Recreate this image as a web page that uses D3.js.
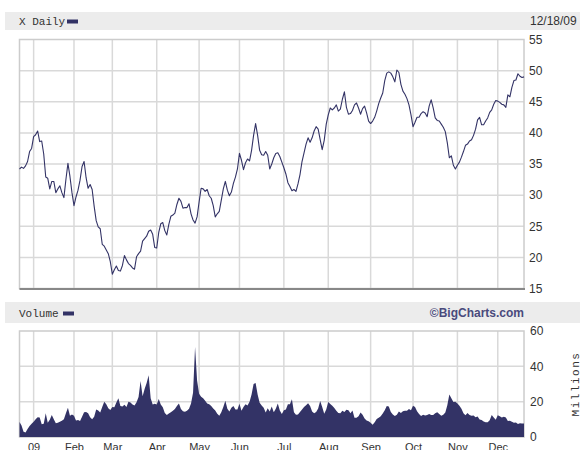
<!DOCTYPE html>
<html>
<head>
<meta charset="utf-8">
<script src="https://cdn.jsdelivr.net/npm/d3@7"></script>
<style>
  html, body { margin: 0; padding: 0; background: #ffffff; }
  svg { display: block; }
</style>
</head>
<body>
<div id="chart"></div>
<script>
// ---------------- DATA ----------------
const symbol = "X";
const titleLabel = "X Daily";
const dateLabel = "12/18/09";
const volumeLabel = "Volume";
const creditLabel = "\u00A9BigCharts.com";
const unitLabel = "Millions";

// Trading calendar: first and last session, market holidays
const firstSession = "2008-12-22";
const lastSession = "2009-12-18";
const holidays = ["2008-12-25", "2009-01-01", "2009-01-19", "2009-02-16", "2009-04-10",
                  "2009-05-25", "2009-07-03", "2009-09-07", "2009-11-26"];

const monthLabels = ["09", "Feb", "Mar", "Apr", "May", "Jun", "Jul", "Aug", "Sep", "Oct", "Nov", "Dec"];
const priceTicks = [15, 20, 25, 30, 35, 40, 45, 50, 55];
const volumeTicks = [0, 20, 40, 60];

// Daily closing price, one value per trading session (USD)
const closePrices = [
  34.2, 34.5, 34.3, 34.7, 35.4, 37.0, 37.5, 39.4, 39.7, 40.3,
  38.6, 38.7, 36.6, 32.9, 32.7, 31.0, 32.2, 32.2, 30.4, 31.0,
  31.5, 30.4, 29.6, 32.5, 35.1, 33.0, 30.4, 28.3, 29.7, 30.8,
  32.4, 34.6, 35.4, 32.8, 31.1, 31.7, 30.9, 28.2, 25.9, 24.9,
  24.6, 22.1, 21.8, 21.2, 20.6, 19.3, 17.3, 18.0, 18.6, 17.9,
  17.8, 18.7, 20.3, 19.6, 19.0, 18.7, 18.3, 18.1, 20.1, 20.6,
  21.0, 22.6, 23.0, 23.4, 24.2, 24.4, 23.7, 21.6, 21.5, 24.0,
  25.4, 25.6, 24.3, 23.6, 25.3, 26.6, 26.8, 27.1, 28.5, 29.5,
  29.0, 27.9, 28.0, 28.0, 28.6, 27.0, 26.0, 25.5, 26.5, 28.9,
  31.1, 31.0, 30.6, 30.9, 29.9, 29.5, 28.3, 26.5, 27.0, 27.4,
  29.2, 31.0, 32.2, 30.8, 29.9, 30.5, 31.9, 32.9, 34.2, 36.7,
  35.6, 34.1, 35.2, 35.8, 35.5, 37.2, 39.6, 41.5, 39.6, 37.2,
  36.5, 36.4, 37.0, 36.4, 34.2, 35.0, 36.0, 36.7, 36.8, 36.2,
  35.3, 34.4, 33.4, 32.0, 31.4, 30.7, 30.9, 30.6, 31.8, 33.3,
  35.4, 36.8, 38.2, 39.2, 38.5, 39.2, 40.3, 41.0, 40.6, 38.9,
  37.3, 38.8, 41.4, 42.9, 44.0, 43.7, 44.0, 44.5, 43.5, 43.8,
  45.4, 46.6, 44.1, 43.0, 43.1, 43.6, 44.5, 44.8, 44.0, 43.0,
  43.9, 44.3, 43.2, 41.9, 41.5, 41.9, 42.5, 43.5, 44.7, 45.6,
  46.4, 48.4, 49.6, 49.8, 49.6, 49.0, 48.2, 50.1, 49.7, 47.8,
  46.7, 46.2, 45.5, 44.5, 42.9, 41.0, 41.7, 42.5, 42.5, 43.1,
  43.4, 43.2, 42.6, 44.3, 45.3, 44.0, 42.4, 42.0, 41.9, 41.4,
  40.9, 40.2, 38.4, 36.0, 36.3, 34.8, 34.2, 34.8, 35.3, 36.1,
  37.0, 38.0, 38.2, 38.7, 38.9, 39.6, 40.6, 42.1, 42.5, 41.3,
  41.3, 41.9, 42.4, 43.3, 43.7, 44.6, 45.2, 45.1, 44.9, 44.6,
  44.5, 44.1, 46.1, 45.8, 47.3, 48.4, 48.5, 49.5, 49.1, 48.9,
  49.0
];

// Daily volume, millions of shares, one value per trading session
const volumes = [
   8.5,  6.5,  3.0,  2.5,  4.5,  6.2,  7.5,  8.7, 10.0, 11.2,
  11.0,  7.2,  7.5, 13.5,  8.0,  9.8, 12.5, 10.0,  7.8,  8.0,
   8.6,  9.2, 10.0, 13.5, 16.5, 12.0, 12.8, 12.0,  9.3,  9.6,
   9.0, 11.5, 14.0, 14.2, 13.5, 11.2, 10.0, 11.5, 15.5, 15.0,
  13.8, 17.0, 20.0, 18.6, 16.3, 15.3, 17.0, 16.8, 19.5, 22.0,
  17.5, 17.3, 18.2, 17.0, 20.0, 19.5, 18.4, 17.8, 19.6, 22.7,
  31.7, 23.0, 27.2, 30.5, 35.0, 22.0, 18.4, 18.8, 18.4, 21.5,
  18.4, 16.9, 13.6, 12.5, 13.3, 14.0, 14.8, 15.8, 17.5, 19.0,
  15.8, 14.6, 14.3, 14.8, 16.0, 19.0, 25.0, 51.0, 32.0, 24.5,
  22.8, 22.0, 20.5, 19.0, 18.6, 17.5, 16.2, 15.0, 13.2, 12.0,
  14.0, 17.0, 20.5, 16.0, 14.5, 16.5, 17.5, 15.5, 15.5, 18.8,
  14.8, 17.0, 18.5, 17.8, 20.0, 24.0, 30.0, 30.5, 24.0, 19.4,
  17.8, 16.5, 13.8, 16.3, 14.5, 17.3, 14.0, 16.0, 19.0, 15.0,
  13.0, 15.2, 15.5, 18.5, 18.5, 21.4, 14.0, 12.6, 12.8, 14.1,
  15.6, 17.0, 18.0, 19.1, 17.6, 14.4, 13.4, 14.2, 16.2, 20.4,
  17.0, 13.1, 15.6, 19.8, 18.7, 17.7, 16.4, 14.8, 13.6, 13.4,
  14.9, 14.2, 15.4, 15.2, 13.4, 15.0, 10.9, 10.9, 11.7, 13.9,
  12.6, 10.5,  9.3,  8.9,  8.0,  6.9,  8.3, 10.2, 10.9, 11.7,
  13.3, 15.2, 17.6, 17.2, 14.2, 12.7, 11.9, 12.6, 14.4, 13.6,
  14.6, 14.9, 14.8, 15.9, 15.2, 17.7, 17.0, 14.6, 13.0, 11.9,
  12.6, 12.2, 12.4, 13.0, 12.4, 12.4, 13.4, 14.0, 13.0, 12.0,
  12.6, 13.8, 18.0, 24.0, 22.0, 19.8, 20.0, 18.9, 17.7, 16.0,
  13.4, 12.3, 13.6, 12.4, 12.0, 12.2, 11.2, 11.6,  9.9,  9.6,
   8.8,  8.3,  8.3,  9.5, 12.5, 11.0,  9.7, 12.3, 11.8, 11.0,
  11.5, 11.0,  9.0,  9.2,  8.6,  8.0,  8.2,  7.4,  7.8,  7.6,
   7.6
];

// ---------------- CALENDAR ----------------
const parse = d3.utcParse("%Y-%m-%d");
const fmt = d3.utcFormat("%Y-%m-%d");
const holidaySet = new Set(holidays);
const sessions = d3.utcDays(parse(firstSession), d3.utcDay.offset(parse(lastSession), 1))
  .filter(d => d.getUTCDay() !== 0 && d.getUTCDay() !== 6 && !holidaySet.has(fmt(d)))
  .map(fmt);

const priceData = sessions.map((s, i) => ({ session: s, value: closePrices[i] }));
const volumeData = sessions.map((s, i) => ({ session: s, value: volumes[i] }));

// first session of each month of 2009
const monthStarts = [];
sessions.forEach((s, i) => {
  if (i > 0 && s.slice(0, 7) !== sessions[i - 1].slice(0, 7)) monthStarts.push(s);
});
const monthTicks = monthStarts.map((s, i) => ({ session: s, label: monthLabels[i] }));

// ---------------- LAYOUT ----------------
const W = 580, H = 450;
const plotLeft = 19.5, plotRight = 524;
const price = { top: 39.5, bottom: 288.5 };
const vol = { top: 331, bottom: 437 };
const navy = "#333366";
const gridColor = "#d9d9d9";
const textColor = "#333333";

const svg = d3.select("#chart").append("svg")
  .attr("width", W).attr("height", H)
  .style("font-family", "'Liberation Sans', Arial, sans-serif");

const x = d3.scalePoint().domain(sessions).range([plotLeft, plotRight]);
const yPrice = d3.scaleLinear().domain([15, 55]).range([price.bottom, price.top]);
const yVol = d3.scaleLinear().domain([0, 60]).range([vol.bottom, vol.top]);

// ---------------- HEADER BANDS ----------------
function band(y0, y1) {
  svg.append("rect").attr("x", 5).attr("y", y0).attr("width", W - 5).attr("height", y1 - y0)
    .attr("fill", "#ececec");
}
band(12, 30);
band(302, 323);

svg.append("text").attr("x", 19).attr("y", 25)
  .style("font-family", "'Liberation Mono', 'DejaVu Sans Mono', monospace")
  .style("font-size", "11px").attr("fill", textColor).text(titleLabel);
svg.append("rect").attr("x", 67).attr("y", 19.5).attr("width", 11).attr("height", 4).attr("fill", navy);

svg.append("text").attr("x", 530).attr("y", 25)
  .style("font-size", "12px").attr("fill", textColor).text(dateLabel);

svg.append("text").attr("x", 19).attr("y", 317)
  .style("font-family", "'Liberation Mono', 'DejaVu Sans Mono', monospace")
  .style("font-size", "11px").attr("fill", textColor).text(volumeLabel);
svg.append("rect").attr("x", 63).attr("y", 311.5).attr("width", 11).attr("height", 4).attr("fill", navy);

svg.append("text").attr("x", 524).attr("y", 317).attr("text-anchor", "end")
  .style("font-size", "12px").style("font-weight", "bold").attr("fill", "#4a4a7c").text(creditLabel);

// ---------------- PRICE PANEL ----------------
const gP = svg.append("g");
gP.append("rect").attr("x", plotLeft).attr("y", price.top)
  .attr("width", plotRight - plotLeft).attr("height", price.bottom - price.top).attr("fill", "#fff");

gP.selectAll("line.hg").data(priceTicks.slice(1, -1)).join("line")
  .attr("x1", plotLeft).attr("x2", plotRight)
  .attr("y1", d => yPrice(d)).attr("y2", d => yPrice(d))
  .attr("stroke", gridColor).attr("stroke-width", 1.5);
gP.selectAll("line.vg").data(monthTicks).join("line")
  .attr("x1", d => x(d.session)).attr("x2", d => x(d.session))
  .attr("y1", price.top).attr("y2", price.bottom)
  .attr("stroke", gridColor).attr("stroke-width", 1.5);

gP.append("rect").attr("x", plotLeft).attr("y", price.top)
  .attr("width", plotRight - plotLeft).attr("height", price.bottom - price.top)
  .attr("fill", "none").attr("stroke", "#cccccc").attr("stroke-width", 1.5);
gP.append("line").attr("x1", plotLeft).attr("x2", plotRight + 1)
  .attr("y1", price.bottom + 0.5).attr("y2", price.bottom + 0.5)
  .attr("stroke", "#888888").attr("stroke-width", 2);

const line = d3.line().x(d => x(d.session)).y(d => yPrice(d.value));
gP.append("path").datum(priceData).attr("d", line)
  .attr("fill", "none").attr("stroke", navy).attr("stroke-width", 1.1)
  .attr("stroke-linejoin", "round");

const priceAxis = d3.axisRight(yPrice).tickValues(priceTicks).tickSize(0).tickPadding(5);
svg.append("g").attr("transform", `translate(${plotRight},0)`).call(priceAxis)
  .call(g => g.select(".domain").remove())
  .call(g => g.selectAll("text").style("font-size", "12px")
    .style("font-family", "'Liberation Sans', Arial, sans-serif").attr("fill", textColor));

// ---------------- VOLUME PANEL ----------------
const gV = svg.append("g");
gV.append("rect").attr("x", plotLeft).attr("y", vol.top)
  .attr("width", plotRight - plotLeft).attr("height", vol.bottom - vol.top).attr("fill", "#fff");
gV.selectAll("line.hg").data(volumeTicks.slice(1, -1)).join("line")
  .attr("x1", plotLeft).attr("x2", plotRight)
  .attr("y1", d => yVol(d)).attr("y2", d => yVol(d))
  .attr("stroke", gridColor).attr("stroke-width", 1.5);
gV.selectAll("line.vg").data(monthTicks).join("line")
  .attr("x1", d => x(d.session)).attr("x2", d => x(d.session))
  .attr("y1", vol.top).attr("y2", vol.bottom)
  .attr("stroke", gridColor).attr("stroke-width", 1.5);
gV.append("rect").attr("x", plotLeft).attr("y", vol.top)
  .attr("width", plotRight - plotLeft).attr("height", vol.bottom - vol.top)
  .attr("fill", "none").attr("stroke", "#cccccc").attr("stroke-width", 1.5);

const area = d3.area().x(d => x(d.session)).y0(yVol(0)).y1(d => yVol(d.value));
gV.append("path").datum(volumeData).attr("d", area).attr("fill", navy);

const volAxis = d3.axisRight(yVol).tickValues(volumeTicks).tickSize(0).tickPadding(6);
svg.append("g").attr("transform", `translate(${plotRight},0)`).call(volAxis)
  .call(g => g.select(".domain").remove())
  .call(g => g.selectAll("text").style("font-size", "12px")
    .style("font-family", "'Liberation Sans', Arial, sans-serif").attr("fill", textColor));

svg.append("text")
  .attr("transform", `translate(579,384) rotate(-90)`)
  .attr("text-anchor", "middle")
  .style("font-family", "'Liberation Mono', 'DejaVu Sans Mono', monospace")
  .style("font-size", "11px").style("letter-spacing", "1.5px")
  .attr("fill", textColor).text(unitLabel);

// month labels (bottom, partly cut by the window edge)
const monthAxis = d3.axisBottom(x).tickValues(monthTicks.map(d => d.session))
  .tickFormat((d, i) => monthTicks[i].label).tickSize(0).tickPadding(6);
svg.append("g").attr("transform", `translate(0,${vol.bottom})`).call(monthAxis)
  .call(g => g.select(".domain").remove())
  .call(g => g.selectAll("text").style("font-size", "11px")
    .style("font-family", "'Liberation Sans', Arial, sans-serif").attr("fill", textColor));
</script>
</body>
</html>
